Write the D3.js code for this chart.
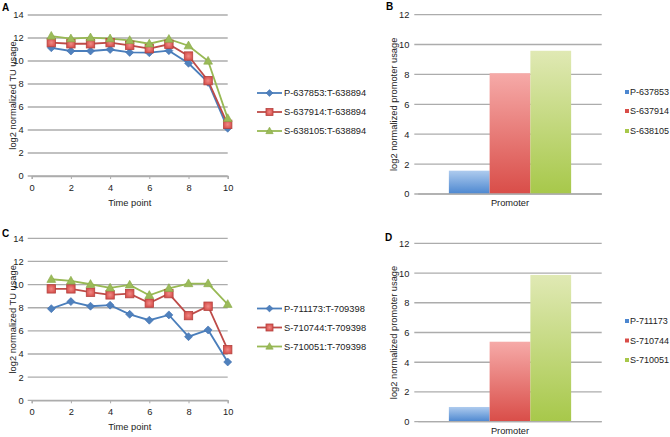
<!DOCTYPE html>
<html><head><meta charset="utf-8">
<script src="https://cdn.jsdelivr.net/npm/d3@7"></script>
<style>body{margin:0;background:#fff}svg{display:block;font-family:"Liberation Sans",Arial,sans-serif}</style>
</head><body><svg id="c" width="670" height="437"></svg>
<script>
// ---- data ----
const timePoints = [1,2,3,4,5,6,7,8,9,10];
const xTicks = [0,2,4,6,8,10];
const lineYTicks = [0,2,4,6,8,10,12,14];
const barYTicks = [0,2,4,6,8,10,12];

const seriesA = ["P-637853:T-638894","S-637914:T-638894","S-638105:T-638894"];
const aP = [11.15,10.87,10.87,11.0,10.75,10.72,10.9,9.8,8.14,4.15];
const aS1 = [11.6,11.5,11.5,11.6,11.36,11.07,11.45,10.43,8.29,4.49];
const aS2 = [12.17,11.94,12.03,11.94,11.8,11.5,11.9,11.33,10.0,5.01];

const seriesC = ["P-711173:T-709398","S-710744:T-709398","S-710051:T-709398"];
const cP = [7.92,8.53,8.13,8.22,7.43,6.92,7.38,5.5,6.08,3.31];
const cS1 = [9.63,9.63,9.34,9.11,9.22,8.4,9.22,7.32,8.13,4.38];
const cS2 = [10.46,10.32,10.03,9.71,9.97,9.08,9.68,10.09,10.09,8.3];

const barCategory = ["Promoter"];
const seriesB = ["P-637853","S-637914","S-638105"];
const bValues = [1.56,8.08,9.58];
const seriesD = ["P-711173","S-710744","S-710051"];
const dValues = [0.99,5.38,9.87];

// ---- styles ----
const lineColors = ["#4a7ebb","#be4b48","#98b954"];
const markerFill = ["#4f81bd","#e0625e","#9bbb59"];
const barTop = ["#aecbee","#f6aaa8","#e0e9b4"];
const barBot = ["#4c87d0","#d94d48","#a7c84a"];
const gridColor = "#acacac";
const FS = 9.3;
const LFS = 9;

const svg = d3.select("#c");
const defs = svg.append("defs");
barTop.forEach((c,i)=>{
  const g = defs.append("linearGradient").attr("id","bg"+i).attr("x1",0).attr("x2",0).attr("y1",0).attr("y2",1);
  g.append("stop").attr("offset","0%").attr("stop-color",c);
  g.append("stop").attr("offset","100%").attr("stop-color",barBot[i]);
});
const sqG = defs.append("radialGradient").attr("id","sqg");
sqG.append("stop").attr("offset","0%").attr("stop-color","#f08a86");
sqG.append("stop").attr("offset","100%").attr("stop-color","#d9534f");

function marker(g, i, x, y, s){
  if(i===0){
    g.append("path").attr("d",`M${x},${y-s}L${x+s},${y}L${x},${y+s}L${x-s},${y}Z`)
      .attr("fill",markerFill[0]).attr("stroke","#3f6fb0").attr("stroke-width",0.6);
  } else if(i===1){
    g.append("rect").attr("x",x-s).attr("y",y-s).attr("width",2*s).attr("height",2*s)
      .attr("fill","url(#sqg)").attr("stroke","#b3423f").attr("stroke-width",0.8);
  } else {
    g.append("path").attr("d",`M${x},${y-s*1.1}L${x+s*1.05},${y+s*0.75}L${x-s*1.05},${y+s*0.75}Z`)
      .attr("fill",markerFill[2]).attr("stroke","#86a845").attr("stroke-width",0.6);
  }
}

function linePanel(cfg){
  const g = svg.append("g");
  const x = d3.scaleLinear().domain([0,10]).range([cfg.x0,cfg.x1]);
  const y = d3.scaleLinear().domain([0,14]).range([cfg.y0,cfg.y1]);
  g.selectAll(".gr").data(lineYTicks).join("line")
    .attr("x1",cfg.x0-4).attr("x2",cfg.x1).attr("y1",d=>y(d)).attr("y2",d=>y(d))
    .attr("stroke",gridColor).attr("stroke-width",1.3);
  const xa = g.append("g").attr("transform",`translate(0,${cfg.y0})`)
    .call(d3.axisBottom(x).tickValues(xTicks).tickSize(3).tickPadding(5).tickFormat(d3.format("d")));
  xa.select(".domain").attr("stroke",gridColor).attr("stroke-width",1.3);
  xa.selectAll(".tick line").attr("stroke",gridColor);
  xa.selectAll("text").attr("font-size",FS).attr("fill","#222");
  const ya = g.append("g").attr("transform",`translate(${cfg.x0},0)`)
    .call(d3.axisLeft(y).tickValues(lineYTicks).tickSize(0).tickPadding(8));
  ya.select(".domain").remove();
  ya.selectAll("text").attr("font-size",FS).attr("fill","#222");
  g.append("text").attr("x",(cfg.x0+cfg.x1)/2).attr("y",cfg.y0+30).attr("text-anchor","middle")
    .attr("font-size",FS).attr("fill","#222").text("Time point");
  g.append("text").attr("transform",`translate(${cfg.x0-16},${(cfg.y0+cfg.y1)/2}) rotate(-90)`)
    .attr("text-anchor","middle").attr("font-size",FS).attr("fill","#222").text("log2 normalized TU usage");
  g.append("text").attr("x",cfg.lx).attr("y",cfg.ly).attr("font-size",10).attr("font-weight","bold").text(cfg.label);
  const ln = d3.line().x((d,i)=>x(timePoints[i])).y(d=>y(d));
  cfg.data.forEach((s,i)=>{
    g.append("path").attr("d",ln(s)).attr("fill","none").attr("stroke",lineColors[i]).attr("stroke-width",1.8);
  });
  cfg.data.forEach((s,i)=>{
    s.forEach((v,j)=>marker(g,i,x(timePoints[j]),y(v),i===0?4:4.2));
  });
  cfg.names.forEach((n,i)=>{
    const ly = cfg.legY[i];
    g.append("line").attr("x1",257).attr("x2",282).attr("y1",ly).attr("y2",ly).attr("stroke",lineColors[i]).attr("stroke-width",1.8);
    marker(g,i,269.5,ly,i===0?3.4:3.5);
    g.append("text").attr("x",284).attr("y",ly+3.3).attr("font-size",FS).attr("fill","#222").text(n);
  });
}

function barPanel(cfg){
  const g = svg.append("g");
  const x = d3.scaleBand().domain(barCategory).range([cfg.x0,cfg.x1]).paddingOuter(0.25).paddingInner(0);
  const xs = d3.scaleBand().domain(cfg.names).range([0,x.bandwidth()]);
  const y = d3.scaleLinear().domain([0,12]).range([cfg.y0,cfg.y1]);
  g.selectAll(".gr").data(barYTicks).join("line")
    .attr("x1",cfg.x0-4).attr("x2",cfg.x1).attr("y1",d=>y(d)).attr("y2",d=>y(d))
    .attr("stroke",gridColor).attr("stroke-width",1.3);
  const ya = g.append("g").attr("transform",`translate(${cfg.x0},0)`)
    .call(d3.axisLeft(y).tickValues(barYTicks).tickSize(0).tickPadding(9));
  ya.select(".domain").remove();
  ya.selectAll("text").attr("font-size",FS).attr("fill","#222");
  cfg.values.forEach((v,i)=>{
    g.append("rect").attr("x",x("Promoter")+xs(cfg.names[i])).attr("y",y(v))
      .attr("width",xs.bandwidth()).attr("height",y(0)-y(v)).attr("fill",`url(#bg${i})`);
  });
  g.append("line").attr("x1",cfg.x0).attr("x2",cfg.x1).attr("y1",y(0)).attr("y2",y(0)).attr("stroke",gridColor).attr("stroke-width",1.3);
  g.append("text").attr("x",x("Promoter")+x.bandwidth()/2).attr("y",cfg.y0+12).attr("text-anchor","middle")
    .attr("font-size",FS).attr("fill","#222").text(barCategory[0]);
  g.append("text").attr("transform",`translate(${cfg.x0-21},${(cfg.y0+cfg.y1)/2}) rotate(-90)`)
    .attr("text-anchor","middle").attr("font-size",FS).attr("fill","#222").text("log2 normalized promoter usage");
  g.append("text").attr("x",cfg.lx).attr("y",cfg.ly).attr("font-size",10).attr("font-weight","bold").text(cfg.label);
  cfg.names.forEach((n,i)=>{
    const ly = cfg.legY[i];
    g.append("rect").attr("x",625).attr("y",ly-2).attr("width",4).attr("height",4).attr("fill",barBot[i]);
    g.append("text").attr("x",630).attr("y",ly+3.2).attr("font-size",LFS).attr("fill","#222").text(n);
  });
}

linePanel({x0:31.7,x1:227.7,y0:176,y1:15,data:[aP,aS1,aS2],names:seriesA,legY:[93,112,131],label:"A",lx:2,ly:11});
linePanel({x0:31.7,x1:227.7,y0:400.3,y1:238.3,data:[cP,cS1,cS2],names:seriesC,legY:[308.5,327.5,346.5],label:"C",lx:2,ly:237});
barPanel({x0:418.3,x1:601.7,y0:194,y1:14.6,values:bValues,names:seriesB,legY:[92,111,131],label:"B",lx:386,ly:10});
barPanel({x0:418.3,x1:601.7,y0:421.7,y1:243.3,values:dValues,names:seriesD,legY:[321,340.5,360],label:"D",lx:385,ly:241});
</script></body></html>
